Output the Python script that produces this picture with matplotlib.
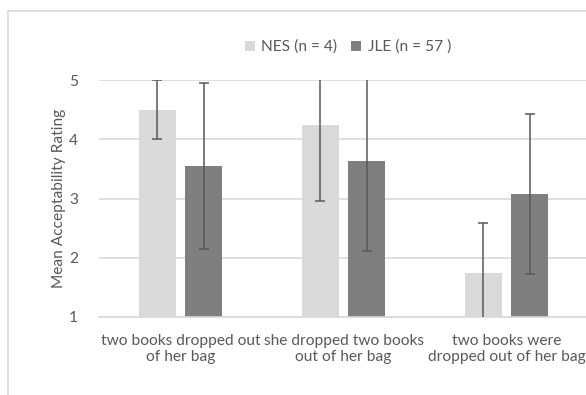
import matplotlib
matplotlib.use("Agg")
import matplotlib.pyplot as plt
import numpy as np

# data
categories = ["two books dropped out\nof her bag",
              "she dropped two books\nout of her bag",
              "two books were\ndropped out of her bag"]
nes_mean = [4.5, 4.24, 1.75]
nes_err = [0.5, 1.28, 0.83]
jle_mean = [3.55, 3.63, 3.07]
jle_err = [1.4, 1.52, 1.35]
series_names = ["NES (n = 4)", "JLE (n = 57 )"]

plt.rcParams['font.family'] = ['Lato', 'DejaVu Sans']
txt = '#595959'

fig = plt.figure(figsize=(5.86, 3.95), dpi=100)
ax = fig.add_axes([99 / 586, 1 - 317 / 395, 489 / 586, 237 / 395])

x = np.arange(len(categories))
w = 0.227
off = 0.142
ax.bar(x - off, nes_mean, w, color='#d9d9d9', label=series_names[0], zorder=2)
ax.bar(x + off, jle_mean, w, color='#7f7f7f', label=series_names[1], zorder=2)
ax.errorbar(x - off, nes_mean, yerr=nes_err, fmt='none', ecolor='#595959',
            elinewidth=1.1, capsize=3.3, capthick=1.1, zorder=3)
ax.errorbar(x + off, jle_mean, yerr=jle_err, fmt='none', ecolor='#595959',
            elinewidth=1.1, capsize=3.3, capthick=1.1, zorder=3)

ax.set_xlim(-0.5, 2.5)
ax.set_ylim(1, 5)
ax.set_yticks([1, 2, 3, 4, 5])
ax.set_xticks(x)
ax.set_xticklabels(categories, fontsize=11.2, color=txt, linespacing=1.25)
ax.tick_params(axis='y', labelsize=11.2, labelcolor=txt, length=0, pad=15)
ax.tick_params(axis='x', length=0, pad=12)
ax.grid(axis='y', color='#d9d9d9', linewidth=1.2, zorder=0)
for s in ['top', 'right', 'left']:
    ax.spines[s].set_visible(False)
ax.spines['bottom'].set_color('#d9d9d9')
ax.spines['bottom'].set_linewidth(1.2)
ax.set_ylabel("Mean Acceptability Rating", fontsize=11.2, color=txt, labelpad=2)

leg = fig.legend(loc='center', bbox_to_anchor=(348 / 586, 1 - 47 / 395), ncol=2,
                 frameon=False, fontsize=11.2, handlelength=0.65, handleheight=0.65,
                 handletextpad=0.4, columnspacing=0.9, labelcolor=txt)

# outer chart frame (cropped on right and bottom)
fig.add_artist(plt.Line2D([8 / 586, 1], [1 - 11 / 395] * 2, color='#d9d9d9', lw=1.2))
fig.add_artist(plt.Line2D([8 / 586] * 2, [0, 1 - 11 / 395], color='#d9d9d9', lw=1.2))

fig.savefig("out.png", dpi=100)
